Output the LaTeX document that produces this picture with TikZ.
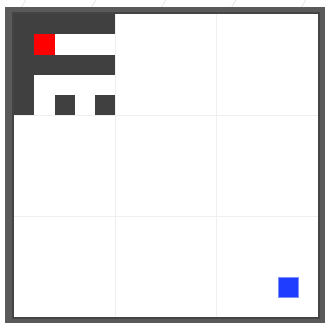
\documentclass[tikz,border=0pt]{standalone}
\definecolor{framegray}{HTML}{5A5A5A}
\definecolor{innerline}{HTML}{444444}
\definecolor{wallgray}{HTML}{404040}
\definecolor{agentred}{HTML}{FF0000}
\definecolor{goalblue}{HTML}{1F3DFF}
\definecolor{goaledge}{HTML}{7F8FFF}
\definecolor{gridline}{HTML}{EFEFEF}
\definecolor{hatch}{HTML}{E6E6E6}
\tikzset{
  wall/.style={fill=wallgray, draw=none},
  agent/.style={fill=agentred, draw=none},
  goal/.style={fill=goalblue, draw=goaledge, line width=0.6pt},
  biggrid/.style={draw=gridline, line width=0.8pt},
  hatchline/.style={draw=hatch, line width=0.8pt}
}
\begin{document}
\begin{tikzpicture}[x=1pt,y=-1pt]
\useasboundingbox (0,0) rectangle (328,324);
\fill[white] (0,0) rectangle (328,324);
% faint background hatching
\begin{scope}
\clip (0,0) rectangle (328,324);
\foreach \s in {-300,-230,...,420} {
  \draw[hatchline] (\s+40,10) -- (\s+48,-4);
}
\end{scope}
% outer frame
\fill[framegray] (5,7) rectangle (324.5,323);
\fill[innerline] (12,12) rectangle (320,319);
\fill[white] (14,14) rectangle (318,317);
% big grid lines
\def\c{20.27}
\draw[biggrid] (115.3,14) -- (115.3,317);
\draw[biggrid] (216.7,14) -- (216.7,317);
\draw[biggrid] (14,115.3) -- (318,115.3);
\draw[biggrid] (14,216.7) -- (318,216.7);
% walls (col,row)
\foreach \cx/\ry in {0/0,1/0,2/0,3/0,4/0, 0/1, 0/2,1/2,2/2,3/2,4/2, 0/3, 0/4,2/4,4/4} {
  \fill[wall] ({14+\cx*\c},{14+\ry*\c}) rectangle ({14+(\cx+1)*\c},{14+(\ry+1)*\c});
}
% agent
\fill[agent] ({14+1*\c},{14+1*\c}) rectangle ({14+2*\c},{14+2*\c});
% goal
\filldraw[goal] ({14+13*\c+0.5},{14+13*\c}) rectangle ({14+14*\c+0.5},{14+14*\c});
\end{tikzpicture}
\end{document}
